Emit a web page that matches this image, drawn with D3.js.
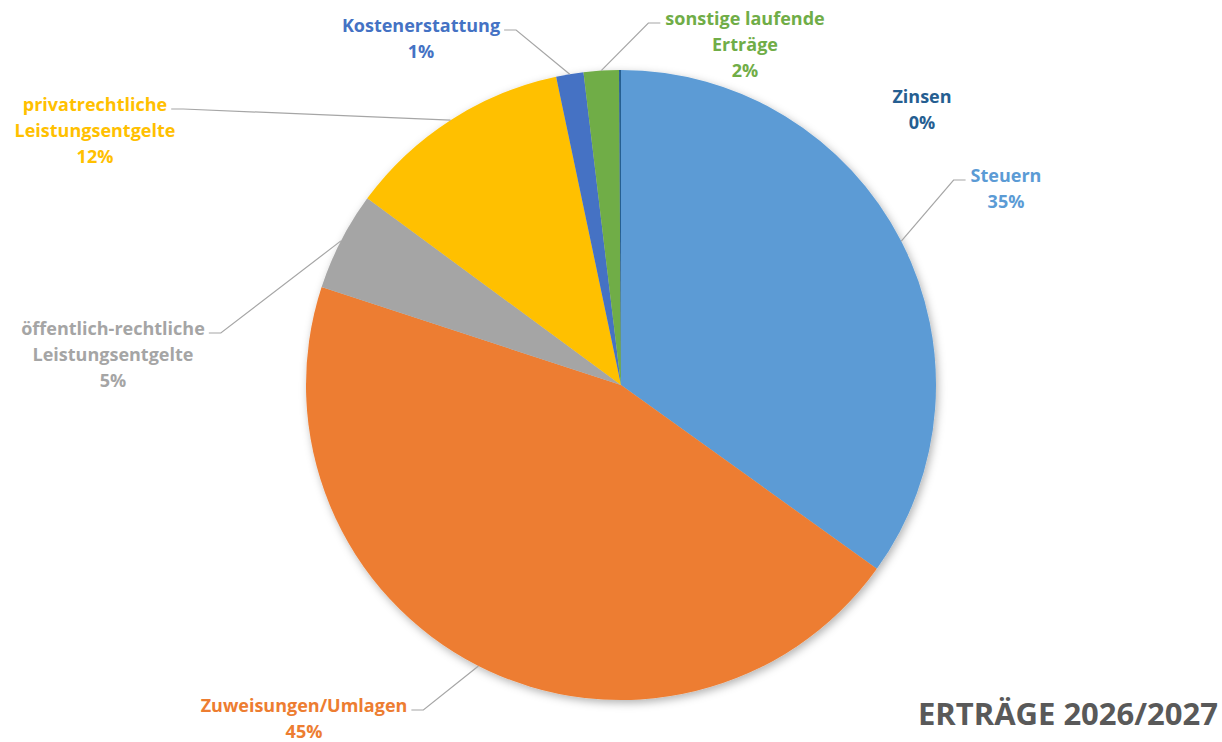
<!DOCTYPE html>
<html>
<head>
<meta charset="utf-8">
<script src="https://cdn.jsdelivr.net/npm/d3@7"></script>
<style>
  body { margin: 0; background: #fff; }
  svg { display: block; }
  .lbl { font-family: "Open Sans", Lato, sans-serif; font-weight: bold; }
</style>
</head>
<body>
<div id="chart"></div>
<script>
// data
const categories = ["Steuern", "Zuweisungen/Umlagen", "öffentlich-rechtliche Leistungsentgelte",
  "privatrechtliche Leistungsentgelte", "Kostenerstattung", "sonstige laufende Erträge", "Zinsen"];
const labelLines = [["Steuern"], ["Zuweisungen/Umlagen"], ["öffentlich-rechtliche", "Leistungsentgelte"],
  ["privatrechtliche", "Leistungsentgelte"], ["Kostenerstattung"], ["sonstige laufende", "Erträge"], ["Zinsen"]];
const shares = [34.9, 45.1, 5.06, 11.6, 1.4, 1.8, 0.1];
const colors = ["#5B9BD5", "#ED7D31", "#A5A5A5", "#FFC000", "#4472C4", "#70AD47", "#255E91"];
const title = "ERTRÄGE 2026/2027";

// layout of the labels (center x, first line y, side of leader line or null)
const labelLayout = [
  [1006, 175, "left"],
  [304, 705, "right"],
  [113, 328, "right"],
  [95, 104, "right"],
  [421, 25, "right"],
  [745, 18, "left"],
  [922, 96, null]
];

const width = 1222, height = 742;
const cx = 621, cy = 385, radius = 315;
const lineH = 26;

const svg = d3.select("#chart").append("svg")
  .attr("width", width)
  .attr("height", height);

// soft shadow like the office chart
const defs = svg.append("defs");
defs.append("filter")
    .attr("id", "shadow")
    .attr("x", "-20%").attr("y", "-20%")
    .attr("width", "140%").attr("height", "140%")
  .append("feDropShadow")
    .attr("dx", 2).attr("dy", 3)
    .attr("stdDeviation", 4)
    .attr("flood-color", "#000")
    .attr("flood-opacity", 0.3);

const pie = d3.pie().sort(null).value(d => d)(shares);
const arc = d3.arc().innerRadius(0).outerRadius(radius);
const edgeArc = d3.arc().innerRadius(radius).outerRadius(radius);
const total = d3.sum(shares);

const g = svg.append("g").attr("transform", `translate(${cx},${cy})`);

g.append("g")
    .attr("filter", "url(#shadow)")
  .selectAll("path")
  .data(pie)
  .join("path")
    .attr("d", arc)
    .attr("fill", (d, i) => colors[i]);

// labels
const labels = svg.append("g").selectAll("text")
  .data(pie)
  .join("text")
    .attr("class", "lbl")
    .attr("text-anchor", "middle")
    .attr("font-size", 18)
    .attr("fill", (d, i) => colors[i]);

labels.each(function(d, i) {
  const t = d3.select(this);
  const [x, y] = labelLayout[i];
  const lines = labelLines[i].concat([Math.round(d.value / total * 100) + "%"]);
  lines.forEach((ln, j) => {
    t.append("tspan")
      .attr("x", x)
      .attr("y", y + j * lineH)
      .attr("dominant-baseline", "central")
      .text(ln);
  });
});

// leader lines
const leaders = svg.append("g");
labels.each(function(d, i) {
  const [x, y, side] = labelLayout[i];
  if (!side) return;
  const w = this.querySelector("tspan").getComputedTextLength();
  const ly = y + 5;
  const x0 = side === "left" ? x - w / 2 - 5 : x + w / 2 + 4;
  const x1 = side === "left" ? x0 - 12 : x0 + 12;
  const [ex, ey] = edgeArc.centroid(d);
  leaders.append("path")
    .attr("d", `M${x0},${ly}L${x1},${ly}L${cx + ex},${cy + ey}`)
    .attr("fill", "none")
    .attr("stroke", "#a6a6a6")
    .attr("stroke-width", 1.2);
});

// title
svg.append("text")
  .attr("class", "lbl")
  .attr("x", 1218)
  .attr("y", 725)
  .attr("text-anchor", "end")
  .attr("font-size", 31)
  .attr("fill", "#595959")
  .text(title);
</script>
</body>
</html>
